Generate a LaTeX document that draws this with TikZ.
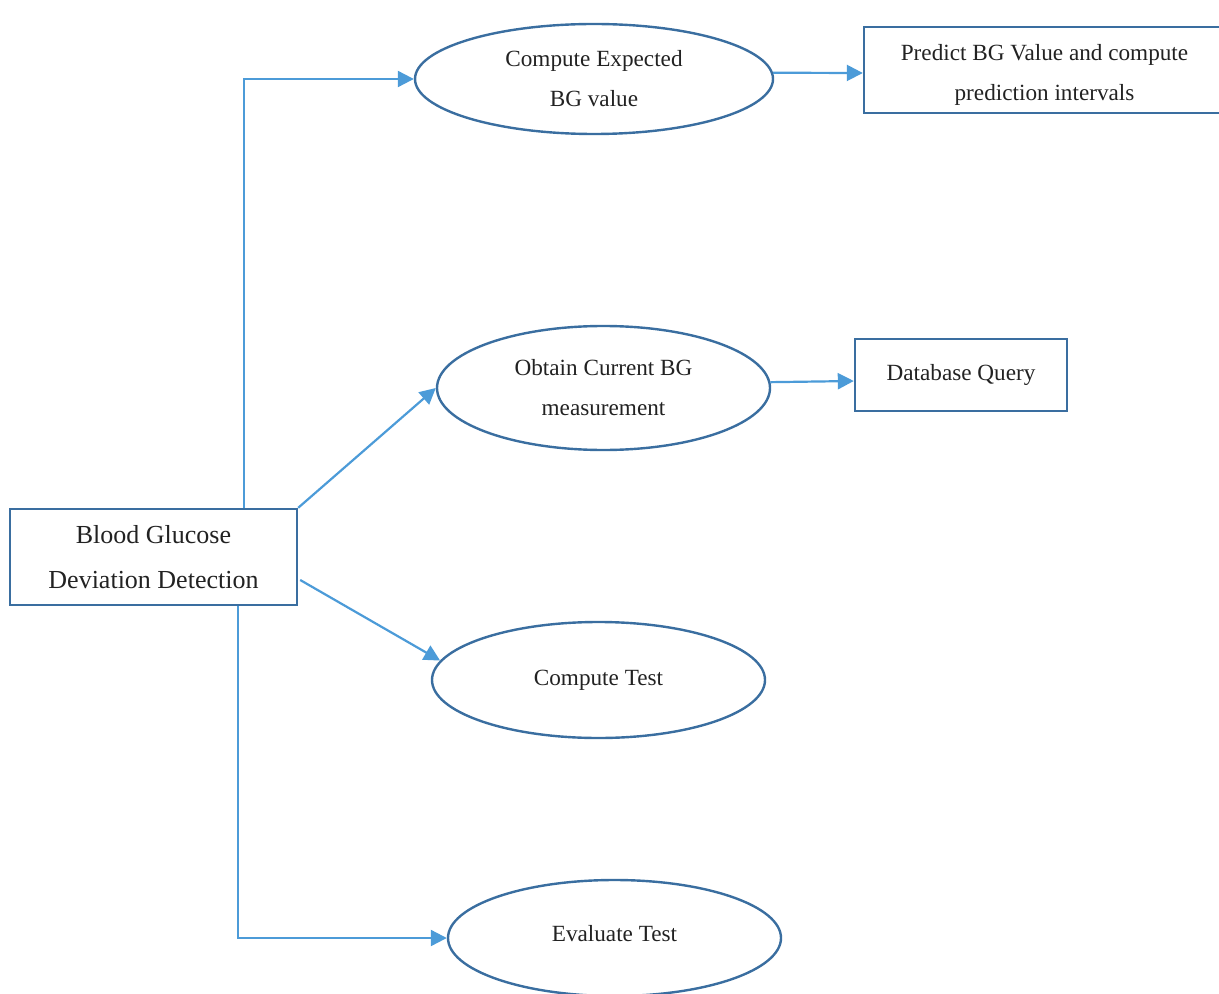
\documentclass[tikz,border=0pt]{standalone}
\usepackage{fontspec}
\setmainfont{Liberation Serif}
\usetikzlibrary{shapes.geometric,arrows.meta}
\definecolor{edgeblue}{HTML}{3A6EA0}
\definecolor{linkblue}{HTML}{4C9BD8}
\definecolor{ink}{HTML}{222222}
\begin{document}
\begin{tikzpicture}[x=0.5pt,y=-0.5pt,
  box/.style={draw=edgeblue,line width=1.2pt,rectangle,inner sep=0pt,align=center,text=ink,
    font=\fontsize{11.6}{20}\selectfont},
  oval/.style={draw=edgeblue,line width=1.2pt,ellipse,inner sep=0pt,align=center,text=ink,
    minimum width=166.5pt,font=\fontsize{11.6}{20}\selectfont},
  link/.style={draw=linkblue,line width=1.1pt,-{Triangle[length=8pt,width=8pt]}}]
\useasboundingbox (0,0) rectangle (1219,994);

% main task box
\node[box,minimum width=143.5pt,minimum height=48pt,font=\fontsize{13}{22.5}\selectfont]
  (b1) at (153.5,557) {Blood Glucose\\Deviation Detection};

% sub-tasks
\node[oval,minimum width=179pt,minimum height=55pt] (e1) at (594,79) {Compute Expected\\BG value};
\node[oval,minimum height=62pt] (e2) at (603.5,388) {Obtain Current BG\\measurement};
\node[oval,minimum height=58pt,text depth=2pt] (e3) at (598.5,680) {Compute Test};
\node[oval,minimum height=58pt,text depth=5pt] (e4) at (614.5,938) {Evaluate Test};

% details (text set a little below the box centre)
\node[box,minimum width=180.5pt,minimum height=43pt] (b2) at (1044.5,70)
  {\raisebox{-1.5pt}[\height][\depth]{\begin{tabular}{@{}c@{}}Predict BG Value and compute\\prediction intervals\end{tabular}}};
\node[box,minimum width=106pt,minimum height=36pt] (b3) at (961,375) {Database Query};

% connectors
\draw[link] ([xshift=45.25pt]b1.north) |- (e1.west);
\draw[link] (b1.north east) -- (e2.west);
\draw[link] ([xshift=1pt,yshift=-11.5pt]b1.east) -- (e3.173);
\draw[link] ([xshift=42.25pt]b1.south) |- (e4.west);
\draw[link] (e1.2.6) -- ([yshift=-1.5pt]b2.west);
\draw[link] (e2.2.4) -- ([yshift=-3pt]b3.west);
\end{tikzpicture}
\end{document}
